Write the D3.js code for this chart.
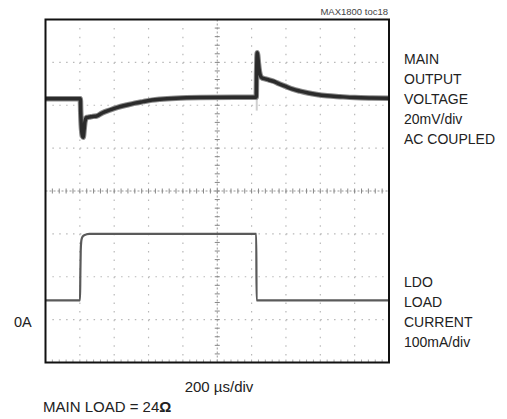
<!DOCTYPE html>
<html><head><meta charset="utf-8">
<script src="https://cdn.jsdelivr.net/npm/d3@7"></script>
<style>
html,body{margin:0;padding:0;background:#fff;}
svg{display:block;}
text{font-family:"Liberation Sans",Arial,sans-serif;fill:#222;}
</style></head><body>
<script>
// ---- data ----
// time in microseconds (200 us/div, 10 div)
const timeDomain = [0, 2000];
// main output voltage, AC coupled, mV relative to initial level (20 mV/div)
const voltageTime = [0, 203, 205, 208, 212, 216, 220, 224, 230, 240, 255, 275, 298, 330, 376, 420, 473, 520, 568, 620, 667, 760, 900, 1100, 1227, 1229, 1231, 1233, 1236, 1240, 1246, 1254, 1262, 1280, 1300, 1327, 1360, 1404, 1440, 1482, 1530, 1579, 1640, 1715, 1800, 1900, 2000];
const voltageMV   = [0, 0, -6, -12, -16, -17.5, -17.9, -15, -10.5, -8.7, -8.5, -8.2, -8.0, -6.6, -5.2, -4.0, -2.9, -2.0, -1.3, -0.6, -0.2, 0.3, 0.6, 0.7, 0.7, 12, 19, 21.5, 20, 16.5, 12.5, 10.3, 9.7, 9.3, 8.8, 8.2, 7.0, 5.6, 4.5, 3.6, 2.7, 2.0, 1.4, 1.0, 0.6, 0.4, 0.3];
// faint persistence of the fast edges (time, mV from, mV to)
const ghostTime = [204, 1230];
const ghostFrom = [0, 22];
const ghostTo   = [-18, -5.5];
// LDO load current, mA (100 mA/div)
const currentTime = [0, 201, 203, 205, 208, 212, 222, 240, 255, 1227, 1229, 2000];
const currentMA   = [45, 45, 110, 160, 182, 190, 196, 199, 200, 200, 45, 45];
// texts
const partLabel = "MAX1800 toc18";
const voltageLabel = ["MAIN", "OUTPUT", "VOLTAGE", "20mV/div", "AC COUPLED"];
const currentLabel = ["LDO", "LOAD", "CURRENT", "100mA/div"];
const zeroLabel = "0A";
const timeLabel = "200 \u00B5s/div";
const loadLabelMain = "MAIN LOAD = 24";
const loadLabelUnit = "\u03A9";

// ---- layout ----
const W = 507, H = 419;
const L = 45.5, R = 389, T = 19.5, B = 362.5;
const svg = d3.select("body").append("svg").attr("width", W).attr("height", H);

const x = d3.scaleLinear().domain(timeDomain).range([L, R]);
const yDiv = d3.scaleLinear().domain([-4, 4]).range([B, T]);
// voltage: 0 mV sits 2.15 div above screen centre
const yV = d3.scaleLinear().domain([-20 * (4 + 2.15), 20 * (4 - 2.15)]).range([B, T]);
// current: 0 A sits 3 div below screen centre
const yI = d3.scaleLinear().domain([-100, 700]).range([B, T]);

// ---- graticule ----
const g = svg.append("g");
const xDivs = d3.range(1, 10).map(i => timeDomain[0] + i * 200);
const yDivs = d3.range(-3, 4);
const dx = (R - L) / 50, dy = (B - T) / 40;

xDivs.filter(t => t !== 1000).forEach(t => {
  g.append("line").attr("x1", x(t)).attr("x2", x(t)).attr("y1", T + dy).attr("y2", B)
    .attr("stroke", "#b8b8b8").attr("stroke-width", 1.2)
    .attr("stroke-dasharray", `1.5,${dy - 1.5}`);
});
yDivs.filter(d => d !== 0).forEach(d => {
  g.append("line").attr("x1", L + dx).attr("x2", R).attr("y1", yDiv(d)).attr("y2", yDiv(d))
    .attr("stroke", "#b8b8b8").attr("stroke-width", 1.2)
    .attr("stroke-dasharray", `1.5,${dx - 1.5}`);
});
const cx = x(1000), cy = yDiv(0);
g.append("line").attr("x1", L).attr("x2", R).attr("y1", cy).attr("y2", cy)
  .attr("stroke", "#999").attr("stroke-width", 1).attr("stroke-dasharray", "2,2");
g.append("line").attr("x1", cx).attr("x2", cx).attr("y1", T).attr("y2", B)
  .attr("stroke", "#999").attr("stroke-width", 1).attr("stroke-dasharray", "2,2");
d3.range(1, 50).forEach(i => {
  const xx = L + i * dx;
  g.append("line").attr("x1", xx).attr("x2", xx).attr("y1", cy - 2.5).attr("y2", cy + 2.5)
    .attr("stroke", "#888").attr("stroke-width", 1);
  g.append("line").attr("x1", xx).attr("x2", xx).attr("y1", B - 3).attr("y2", B)
    .attr("stroke", "#aaa").attr("stroke-width", 1);
});
d3.range(1, 40).forEach(i => {
  const yy = T + i * dy;
  g.append("line").attr("x1", cx - 2.5).attr("x2", cx + 2.5).attr("y1", yy).attr("y2", yy)
    .attr("stroke", "#888").attr("stroke-width", 1);
});

// ---- traces ----
const vData = voltageTime.map((t, i) => [t, voltageMV[i]]);
const iData = currentTime.map((t, i) => [t, currentMA[i]]);

const vLine = d3.line().x(d => x(d[0])).y(d => yV(d[1])).curve(d3.curveMonotoneX);
const iLine = d3.line().x(d => x(d[0])).y(d => yI(d[1])).curve(d3.curveMonotoneX);

ghostTime.forEach((t, i) => {
  svg.append("line").attr("x1", x(t)).attr("x2", x(t))
    .attr("y1", yV(ghostFrom[i])).attr("y2", yV(ghostTo[i]))
    .attr("stroke", "#cfcfcf").attr("stroke-width", 2);
});
svg.append("path").datum(iData).attr("d", iLine).attr("fill", "none")
  .attr("stroke", "#5a5a5a").attr("stroke-width", 2.2);
svg.append("path").datum(vData).attr("d", vLine).attr("fill", "none")
  .attr("stroke", "#8a8a8a").attr("stroke-width", 5.5).attr("stroke-linejoin", "round");
svg.append("path").datum(vData).attr("d", vLine).attr("fill", "none")
  .attr("stroke", "#2b2b2b").attr("stroke-width", 3.5).attr("stroke-linejoin", "round");

// ---- frame ----
svg.append("rect").attr("x", L).attr("y", T).attr("width", R - L).attr("height", B - T)
  .attr("fill", "none").attr("stroke", "#111").attr("stroke-width", 2);

// ---- texts ----
svg.append("text").attr("x", R - 1).attr("y", 15).attr("text-anchor", "end")
  .attr("font-size", 9.5).style("fill", "#444").text(partLabel);
voltageLabel.forEach((s, i) => {
  svg.append("text").attr("x", 404).attr("y", 63.5 + i * 20).attr("font-size", 14).text(s);
});
currentLabel.forEach((s, i) => {
  svg.append("text").attr("x", 404).attr("y", 287 + i * 20).attr("font-size", 14).text(s);
});
svg.append("text").attr("x", 14).attr("y", 326.5).attr("font-size", 14.5).text(zeroLabel);
svg.append("text").attr("x", 219).attr("y", 391.5).attr("text-anchor", "middle")
  .attr("font-size", 15).text(timeLabel);
const lt = svg.append("text").attr("x", 43).attr("y", 411.5).attr("font-size", 15);
lt.append("tspan").text(loadLabelMain);
lt.append("tspan").attr("font-weight", "bold").text(loadLabelUnit);
</script>
</body></html>
